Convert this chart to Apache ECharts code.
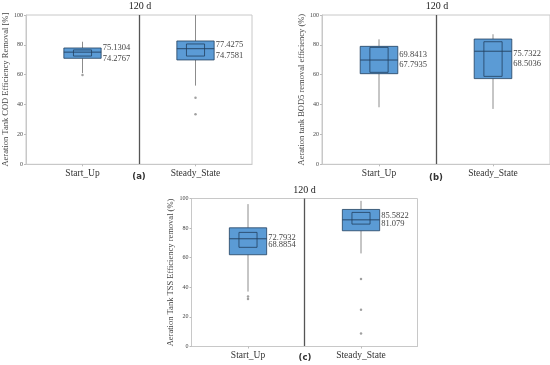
<!DOCTYPE html>
<html><head><meta charset="utf-8">
<script src="https://cdn.jsdelivr.net/npm/echarts@6/dist/echarts.min.js"></script>
<style>html,body{margin:0;padding:0;background:#fff}#c{width:550px;height:365px}</style>
</head><body><div id="c"></div>
<script>
// ---- data ----
const categories = ['Start_Up', 'Steady_State'];
const yTicks = [0, 20, 40, 60, 80, 100];

// panel (a) COD
const codLow    = [61.1, 52.7];
const codQ1     = [71.0, 69.9];
const codMedian = [75.1304, 77.4275];
const codQ3     = [77.9, 82.6];
const codHigh   = [82.1, 100];
const codInLow  = [72.5, 72.5];
const codInHigh = [76.6, 80.6];
const codLabel2 = ['74.2767', '74.7581'];
const codLabel1 = ['75.1304', '77.4275'];
const codOutliers = [[0, 59.8], [1, 44.6], [1, 33.5]];

// panel (b) BOD5
const bodLow    = [38.2, 37.1];
const bodQ1     = [60.7, 57.4];
const bodMedian = [69.8413, 75.7322];
const bodQ3     = [79.0, 83.9];
const bodHigh   = [83.7, 87.1];
const bodInLow  = [61.6, 58.9];
const bodInHigh = [78.3, 82.1];
const bodLabel1 = ['69.8413', '75.7322'];
const bodLabel2 = ['67.7935', '68.5036'];
const bodOutliers = [];

// panel (c) TSS
const tssLow    = [37.1, 62.9];
const tssQ1     = [62.0, 78.2];
const tssMedian = [72.7932, 85.5822];
const tssQ3     = [80.2, 92.6];
const tssHigh   = [96.2, 98.4];
const tssInLow  = [67.0, 82.7];
const tssInHigh = [77.1, 90.6];
const tssLabel1 = ['72.7932', '85.5822'];
const tssLabel2 = ['68.8854', '81.079'];
const tssOutliers = [[0, 33.7], [0, 32.1], [1, 45.6], [1, 24.9], [1, 8.8]];

const yNames = [
  'Aeration Tank COD Efficiency Removal [%]',
  'Aeration tank BOD5 removal efficiency (%)',
  'Aeration Tank TSS Efficiency removal (%)'
];

// ---- styles / layout ----
const SERIF = '"Liberation Serif", "Times New Roman", serif';
const FILL = '#5b9bd5', EDGE = '#22405f', WHISK = '#8c8c8c';
const grids = [
  {left: 26, top: 15, width: 226, height: 149.3},
  {left: 322, top: 15, width: 229.5, height: 149.3},
  {left: 191.5, top: 198.5, width: 226, height: 148}
];
const nameGaps = [15, 12.5, 12.5];
const labelGaps = [11, 10.3, 7.7];

const panels = [
  [codLow, codQ1, codMedian, codQ3, codHigh, codInLow, codInHigh, codLabel1, codLabel2, codOutliers],
  [bodLow, bodQ1, bodMedian, bodQ3, bodHigh, bodInLow, bodInHigh, bodLabel1, bodLabel2, bodOutliers],
  [tssLow, tssQ1, tssMedian, tssQ3, tssHigh, tssInLow, tssInHigh, tssLabel1, tssLabel2, tssOutliers]
];

const xAxis = [], yAxis = [], series = [];
panels.forEach((p, gi) => {
  const [lo, q1, med, q3, hi, il, ih, l1, l2, outs] = p;
  xAxis.push({
    type: 'category', gridIndex: gi, data: categories,
    axisLine: {show: true, lineStyle: {color: '#c8c8c8'}},
    axisTick: {show: true, alignWithLabel: true, length: 2, lineStyle: {color: '#bbb'}},
    axisLabel: {fontFamily: SERIF, fontSize: 9.5, color: '#333', margin: 4},
    splitLine: {show: true, showMinLine: false, showMaxLine: false, lineStyle: {color: '#555', width: 1.3}}
  });
  yAxis.push({
    type: 'value', gridIndex: gi, min: yTicks[0], max: yTicks[yTicks.length - 1], interval: 20,
    name: yNames[gi], nameLocation: 'middle', nameGap: nameGaps[gi], nameRotate: 90,
    nameTextStyle: {fontFamily: SERIF, fontSize: 8.5, color: '#444'},
    axisLine: {show: true, lineStyle: {color: '#c8c8c8'}},
    axisTick: {show: true, length: 2, lineStyle: {color: '#bbb'}},
    axisLabel: {fontFamily: SERIF, fontSize: 6, color: '#444', margin: 3},
    splitLine: {show: false}
  });
  const data = categories.map((c, i) => [i, lo[i], q1[i], med[i], q3[i], hi[i], il[i], ih[i]]);
  series.push({
    type: 'custom', xAxisIndex: gi, yAxisIndex: gi, z: 3,
    encode: {x: 0, y: [1, 2, 3, 4, 5, 6, 7]},
    data: data,
    renderItem: (params, api) => {
      const ci = api.value(0);
      const x = api.coord([ci, 0])[0];
      const bw = api.size([1, 0])[0];
      const ho = bw * 0.165, hi2 = bw * 0.08;
      const Y = v => api.coord([ci, v])[1];
      const yLo = Y(api.value(1)), yQ1 = Y(api.value(2)), yMed = Y(api.value(3)),
            yQ3 = Y(api.value(4)), yHi = Y(api.value(5)), yI1 = Y(api.value(6)), yI3 = Y(api.value(7));
      const di = params.dataIndex;
      return {type: 'group', children: [
        {type: 'line', shape: {x1: x, y1: yHi, x2: x, y2: yQ3}, style: {stroke: WHISK, lineWidth: 1}},
        {type: 'line', shape: {x1: x, y1: yQ1, x2: x, y2: yLo}, style: {stroke: WHISK, lineWidth: 1}},
        {type: 'rect', shape: {x: x - ho, y: yQ3, width: 2 * ho, height: yQ1 - yQ3}, style: {fill: FILL, stroke: EDGE, lineWidth: 0.8}},
        {type: 'line', shape: {x1: x - ho, y1: yMed, x2: x + ho, y2: yMed}, style: {stroke: EDGE, lineWidth: 0.9}},
        {type: 'rect', shape: {x: x - hi2, y: yI3, width: 2 * hi2, height: yI1 - yI3}, style: {fill: 'transparent', stroke: EDGE, lineWidth: 0.8}},
        {type: 'text', x: x + ho + 1.5, y: (yQ1 + yQ3) / 2, style: {
          text: l1[di] + '\n' + l2[di], verticalAlign: 'middle', align: 'left',
          fontFamily: SERIF, fontSize: 8.5, lineHeight: labelGaps[gi], fill: '#444'}}
      ]};
    }
  });
  series.push({
    type: 'scatter', xAxisIndex: gi, yAxisIndex: gi, z: 4,
    symbol: 'circle', symbolSize: 2.5, itemStyle: {color: '#888'},
    data: outs, silent: true
  });
});

const titleTxt = {fontFamily: SERIF, fontSize: 10, fill: '#222', align: 'center', verticalAlign: 'middle'};
const tagTxt = {fontFamily: '"DejaVu Sans", sans-serif', fontSize: 8.5, fontWeight: 'bold', fill: '#333', align: 'center', verticalAlign: 'middle'};
const graphic = [
  {type: 'text', x: 140, y: 6.5, style: Object.assign({text: '120 d'}, titleTxt)},
  {type: 'text', x: 437, y: 6.5, style: Object.assign({text: '120 d'}, titleTxt)},
  {type: 'text', x: 304.5, y: 190, style: Object.assign({text: '120 d'}, titleTxt)},
  {type: 'text', x: 139, y: 177, style: Object.assign({text: '(a)'}, tagTxt)},
  {type: 'text', x: 436, y: 178, style: Object.assign({text: '(b)'}, tagTxt)},
  {type: 'text', x: 305, y: 358, style: Object.assign({text: '(c)'}, tagTxt)}
];

const chart = echarts.init(document.getElementById('c'), null, {renderer: 'canvas'});
chart.setOption({
  animation: false,
  backgroundColor: '#fff',
  grid: grids.map(g => Object.assign({show: true, borderColor: '#c8c8c8', borderWidth: 1, backgroundColor: 'transparent'}, g)),
  xAxis, yAxis, series, graphic
});
</script></body></html>
